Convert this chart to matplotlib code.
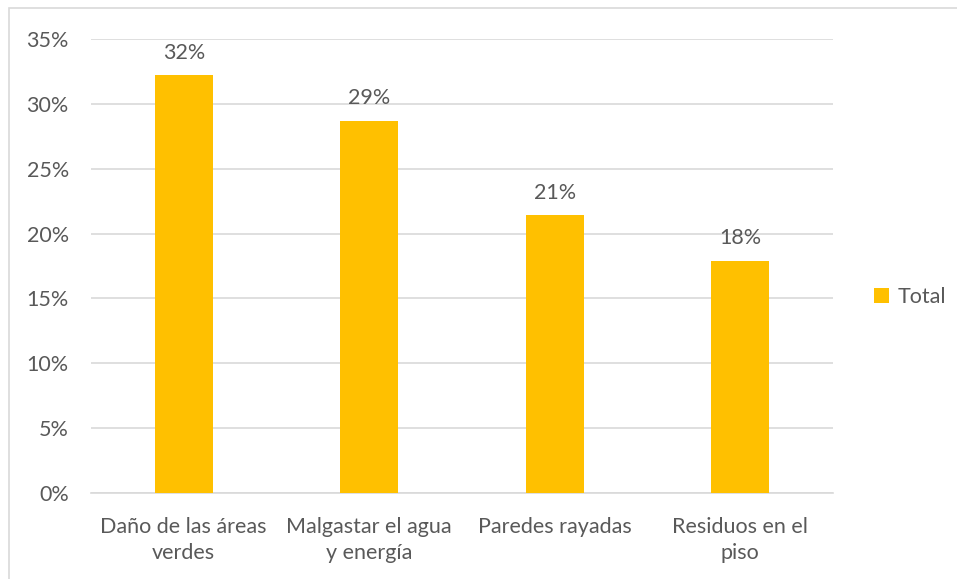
import matplotlib.pyplot as plt
from matplotlib.patches import Rectangle

categorias = ['Daño de las áreas\nverdes', 'Malgastar el agua\ny energía',
              'Paredes rayadas', 'Residuos en el\npiso']
valores = [0.322, 0.287, 0.214, 0.179]
etiquetas = ['32%', '29%', '21%', '18%']
yticks = [0, 0.05, 0.10, 0.15, 0.20, 0.25, 0.30, 0.35]

plt.rcParams['font.family'] = ['Lato', 'DejaVu Sans']
gris = '#595959'
fs = 15.5

W, H = 957, 579
fig = plt.figure(figsize=(W / 100, H / 100), dpi=100)
ax = fig.add_axes([91 / W, 1 - 493 / H, (833 - 91) / W, (493 - 39) / H])

x = range(len(categorias))
ax.bar(x, valores, width=0.31, color='#FFC000', label='Total', zorder=3)
for xi, v, t in zip(x, valores, etiquetas):
    ax.annotate(t, (xi, v), xytext=(0, 9), textcoords='offset points',
                ha='center', va='bottom', fontsize=fs, color=gris)

ax.set_xlim(-0.5, 3.5)
ax.set_ylim(0, 0.35)
ax.set_yticks(yticks)
ax.set_yticklabels([f'{int(round(t * 100))}%' for t in yticks])
ax.set_xticks(list(x))
ax.set_xticklabels(categorias, fontsize=fs, color=gris, linespacing=1.4)
ax.tick_params(axis='y', labelsize=fs, labelcolor=gris, length=0, pad=16)
ax.tick_params(axis='x', length=0, pad=17)
ax.grid(axis='y', color='#d9d9d9', linewidth=1.2, zorder=0)
for s in ['top', 'right', 'left']:
    ax.spines[s].set_visible(False)
ax.spines['bottom'].set_color('#d9d9d9')
ax.spines['bottom'].set_linewidth(1.2)

ax.legend(loc='center left', bbox_to_anchor=(855 / W, 1 - 297 / H),
          bbox_transform=fig.transFigure, frameon=False, fontsize=fs,
          handlelength=0.7, handleheight=0.7, handletextpad=0.4,
          labelcolor=gris)

fig.patches.append(Rectangle((9 / W, -0.1), 1.2, 1 - 8 / H + 0.1,
                             transform=fig.transFigure, fill=False,
                             edgecolor='#d9d9d9', linewidth=1.2))

fig.savefig('out.png', dpi=100)
